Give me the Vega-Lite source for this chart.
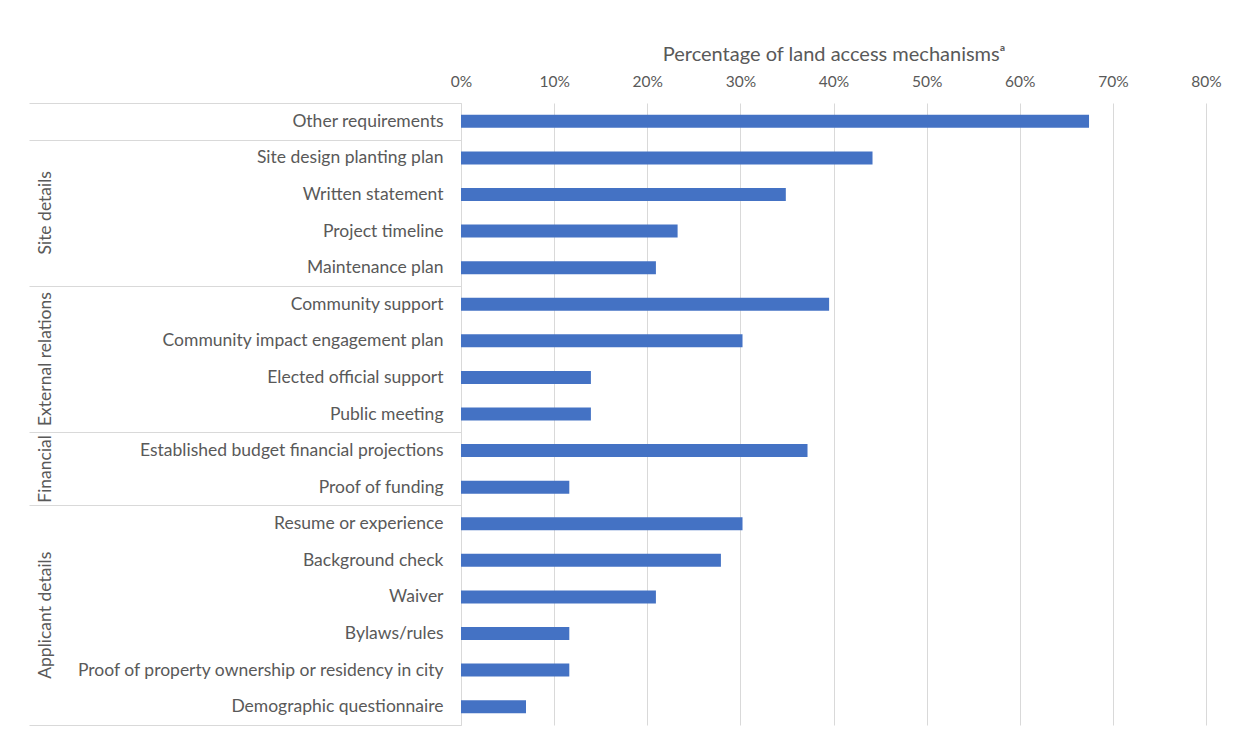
{
  "$schema": "https://vega.github.io/schema/vega-lite/v6.json",
  "autosize": {"type": "none"},
  "width": 745,
  "height": 622,
  "padding": {"left": 461, "top": 103, "right": 42, "bottom": 31},
  "background": "white",
  "config": {"view": {"stroke": null}, "font": "Lato"},
  "data": {
    "values": [
      {"item": "Other requirements", "group": "", "value": 0.6744},
      {"item": "Site design planting plan", "group": "Site details", "value": 0.4419},
      {"item": "Written statement", "group": "Site details", "value": 0.3488},
      {"item": "Project timeline", "group": "Site details", "value": 0.2326},
      {"item": "Maintenance plan", "group": "Site details", "value": 0.2093},
      {"item": "Community support", "group": "External relations", "value": 0.3953},
      {"item": "Community impact engagement plan", "group": "External relations", "value": 0.3023},
      {"item": "Elected official support", "group": "External relations", "value": 0.1395},
      {"item": "Public meeting", "group": "External relations", "value": 0.1395},
      {"item": "Established budget financial projections", "group": "Financial", "value": 0.3721},
      {"item": "Proof of funding", "group": "Financial", "value": 0.1163},
      {"item": "Resume or experience", "group": "Applicant details", "value": 0.3023},
      {"item": "Background check", "group": "Applicant details", "value": 0.2791},
      {"item": "Waiver", "group": "Applicant details", "value": 0.2093},
      {"item": "Bylaws/rules", "group": "Applicant details", "value": 0.1163},
      {"item": "Proof of property ownership or residency in city", "group": "Applicant details", "value": 0.1163},
      {"item": "Demographic questionnaire", "group": "Applicant details", "value": 0.0698}
    ]
  },
  "layer": [
    {
      "mark": {"type": "bar", "color": "#4472C4", "height": 13},
      "encoding": {
        "y": {
          "field": "item",
          "type": "nominal",
          "sort": null,
          "scale": {"paddingInner": 0, "paddingOuter": 0},
          "axis": {
            "title": null,
            "orient": "left",
            "tickBand": "extent",
            "tickSize": 432,
            "tickColor": "#d9d9d9",
            "tickWidth": 1,
            "tickOpacity": {
              "condition": {
                "test": "indexof(['Other requirements','Maintenance plan','Public meeting','Proof of funding','Demographic questionnaire'], datum.value) >= 0 || !isString(datum.value)",
                "value": 1
              },
              "value": 0
            },
            "domainColor": "#d9d9d9",
            "domainWidth": 1,
            "labelPadding": -414,
            "labelFontSize": 17.5,
            "labelColor": "#595959",
            "labelLimit": 500,
            "labelAlign": "right",
            "labelBaseline": "middle"
          }
        },
        "x": {
          "field": "value",
          "type": "quantitative",
          "scale": {"domain": [0, 0.8], "nice": false},
          "axis": {
            "orient": "top",
            "format": ".0%",
            "values": [0, 0.1, 0.2, 0.3, 0.4, 0.5, 0.6, 0.7, 0.8],
            "domain": false,
            "ticks": false,
            "grid": true,
            "gridColor": "#d9d9d9",
            "gridWidth": 1,
            "labelFlush": false,
            "labelFontSize": 15.5,
            "labelColor": "#595959",
            "labelPadding": 14,
            "title": "Percentage of land access mechanismsᵃ",
            "titleFontSize": 20,
            "titleFontWeight": "normal",
            "titleColor": "#595959",
            "titlePadding": 10
          }
        }
      }
    },
    {
      "mark": {"type": "tick", "opacity": 0},
      "encoding": {
        "y": {
          "field": "item",
          "type": "nominal",
          "sort": null,
          "scale": {"paddingInner": 0, "paddingOuter": 0},
          "axis": {
            "orient": "left",
            "title": null,
            "ticks": false,
            "domain": false,
            "labelExpr": "datum.value == 'Project timeline' ? 'Site details' : datum.value == 'Elected official support' ? 'External relations' : datum.value == 'Proof of funding' ? 'Financial' : datum.value == 'Bylaws/rules' ? 'Applicant details' : ''",
            "labelAngle": 270,
            "labelAlign": "center",
            "labelBaseline": "middle",
            "labelPadding": 416,
            "labelOffset": -18.3,
            "labelFontSize": 17.5,
            "labelColor": "#595959",
            "labelLimit": 500
          }
        }
      }
    }
  ],
  "resolve": {"scale": {"y": "independent"}, "axis": {"y": "independent"}}
}
